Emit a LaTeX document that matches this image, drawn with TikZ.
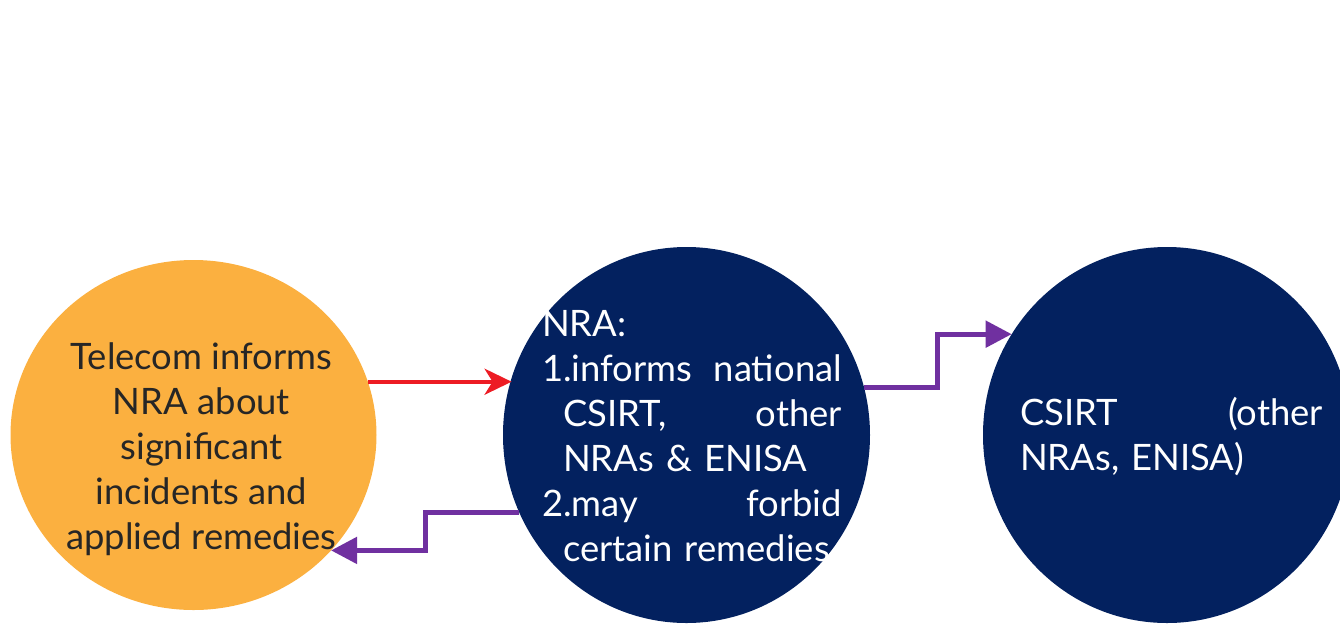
\documentclass[tikz,border=0pt]{standalone}
\usepackage{fontspec}
\setmainfont{Lato}
\usetikzlibrary{arrows.meta,calc,shapes.geometric}

\definecolor{telorange}{HTML}{FBB040}
\definecolor{nranavy}{HTML}{03215F}
\definecolor{flowred}{HTML}{ED1C24}
\definecolor{flowpurple}{HTML}{7030A0}
\definecolor{txtgray}{HTML}{262626}

\begin{document}
\begin{tikzpicture}[x=0.5pt, y=-0.5pt,
    blob/.style={ellipse, inner sep=0pt, outer sep=0pt, draw=none},
    bodytext/.style={font=\fontsize{18.2}{22.5}\selectfont, inner sep=0pt},
    redarrow/.style={draw=flowred, line width=2pt, -{Stealth[length=13.5pt, width=13pt, inset=4pt]}},
    purplearrow/.style={draw=flowpurple, line width=2.5pt, -{Triangle[length=13pt, width=13pt]}}]
    \useasboundingbox (0,0) rectangle (1340,623);
    \clip (0,0) rectangle (1340,623);

    % Draw circles
    \node[blob, fill=telorange, minimum width=183pt, minimum height=175pt] (telecom) at (193.5,435) {};
    \node[blob, fill=nranavy, minimum width=183.5pt, minimum height=188pt] (nra) at (686.5,435) {};
    \node[blob, fill=nranavy, minimum width=184pt, minimum height=188pt] (csirt) at (1167,435) {};

    % Labels
    \node[bodytext, text=txtgray, align=center] (telecomtxt) at (201.5,449)
        {Telecom informs\\NRA about\\significant\\incidents and\\applied remedies};
    \node[bodytext, text=white, text width=150pt, align=left] (nratxt) at (692,436.5)
        {NRA:\\
         1.informs\hfill national\\
         \hspace*{10.5pt}CSIRT,\hfill other\\
         \hspace*{10.5pt}NRAs \& ENISA\\
         2.may\hfill forbid\\
         \hspace*{10.5pt}certain remedies};
    \node[bodytext, text=white, text width=151.5pt, align=left] (csirttxt) at (1171.5,437)
        {CSIRT\hfill(other\\NRAs, ENISA)};

    % Arrows
    \draw[redarrow] (telecom.17.6) -- (nra.162.6 |- telecom.17.6);
    \draw[purplearrow] (nra.205) -| ($(nra.205)!.5!(telecom.320.6)$) |- (telecom.320.6);
    \draw[purplearrow] (nra.15.5) -| ($(nra.15.5)!.5!(csirt.147.7)$) |- (csirt.147.7);
\end{tikzpicture}
\end{document}
